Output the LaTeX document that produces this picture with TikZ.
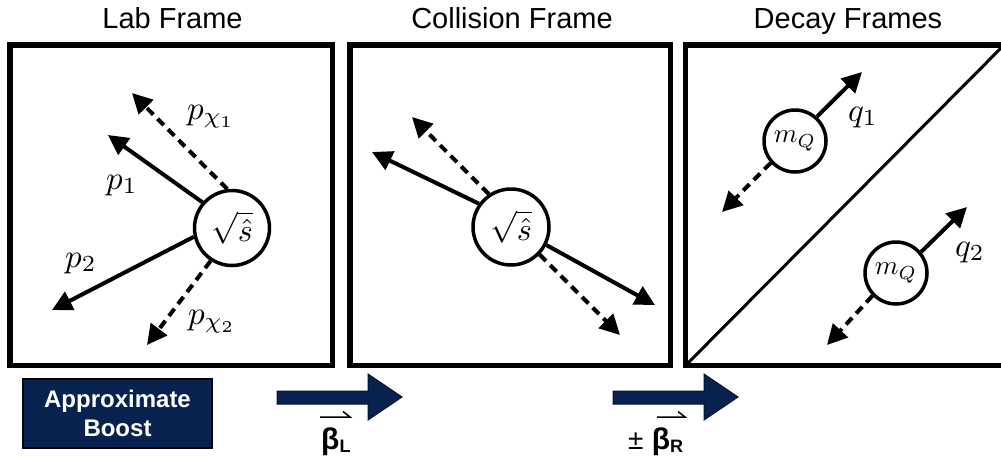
\RequirePackage{fix-cm}
\documentclass[tikz,border=0pt]{standalone}
\usepackage{graphicx}
\usepackage[no-math]{fontspec}
\newfontfamily\lsans{Liberation Sans}
\usetikzlibrary{arrows.meta}
\definecolor{navy}{RGB}{8,34,80}
\definecolor{navyline}{RGB}{5,20,45}
\newcommand{\scmath}[2]{\scalebox{#1}{$#2$}}
\begin{document}
\begin{tikzpicture}[x=1pt,y=-1pt,
  frame/.style={draw, line width=5.5pt},
  title/.style={font=\lsans\fontsize{29}{34}\selectfont, anchor=base, inner sep=0},
  vert/.style={circle, draw, line width=3.5pt, fill=white, inner sep=0},
  mlab/.style={anchor=base west, inner sep=0},
  solidarr/.style={line width=4pt, -{Triangle[length=20pt,width=20pt]}},
  dasharr/.style={solidarr, dash pattern=on 9pt off 6pt},
  boost/.style={fill=navy, draw=navyline, line width=1pt},
  betalab/.style={font=\lsans\bfseries\fontsize{30}{34}\selectfont, anchor=base west, inner sep=0},
  harp/.style={line width=1.5pt},
]
\useasboundingbox (0,0) rectangle (1001,459);
\fill[white] (0,0) rectangle (1001,459);

% titles
\node[title] (t-lab) at (172.5,28) {Lab Frame};
\node[title] (t-col) at (512,28) {Collision Frame};
\node[title] (t-dec) at (848,28) {Decay Frames};

% frames
\draw[frame] (10,45) rectangle (332.5,365.5);
\draw[frame] (350,45) rectangle (670.5,365.5);
\draw[frame] (685.5,45) rectangle (1004,365.5);
\coordinate (dA) at (685.5,365.5);
\coordinate (dB) at (1004,45);
\draw[line width=3pt] (dA) -- (dB);

% Lab frame
\coordinate (l1) at (108,135);
\coordinate (l2) at (132,93);
\coordinate (l3) at (52,310);
\coordinate (l4) at (147,345);
\node[vert, minimum size=75pt] (lab) at (232,228) {\scmath{3.2}{\sqrt{\hat s}}};
\draw[solidarr] (lab.139) -- (l1);
\draw[dasharr] (lab.97) -- (l2);
\draw[solidarr] (lab.193) -- (l3);
\draw[dasharr] (lab.237) -- (l4);
\node[mlab] (lp1) at (106,189) {\scmath{3.3}{p_1}};
\node[mlab] (lpc1) at (187,119) {\scmath{3.3}{p_{\chi_1}}};
\node[mlab] (lp2) at (65,267) {\scmath{3.3}{p_2}};
\node[mlab] (lpc2) at (188,324) {\scmath{3.3}{p_{\chi_2}}};

% Collision frame
\coordinate (c1) at (372,152);
\coordinate (c2) at (412,117);
\coordinate (c3) at (655,305);
\coordinate (c4) at (620,335);
\node[vert, minimum size=76pt] (col) at (511,227) {\scmath{3.2}{\sqrt{\hat s}}};
\draw[solidarr] (col.144) -- (c1);
\draw[dasharr] (col.124) -- (c2);
\draw[solidarr] (col.-27) -- (c3);
\draw[dasharr] (col.-44) -- (c4);

% Decay frames
\coordinate (e1) at (862,72);
\coordinate (e2) at (722,212);
\coordinate (e3) at (967,207);
\coordinate (e4) at (827,345);
\node[vert, minimum size=62pt] (d1) at (795,141) {\scmath{2.7}{m_Q}};
\node[vert, minimum size=62pt] (d2) at (896,273) {\scmath{2.7}{m_Q}};
\draw[solidarr] (d1.48) -- (e1);
\draw[dasharr] (d1.222) -- (e2);
\draw[solidarr] (d2.40) -- (e3);
\draw[dasharr] (d2.224) -- (e4);
\node[mlab] (q1) at (848,121) {\scmath{3.3}{q_1}};
\node[mlab] (q2) at (955,256) {\scmath{3.3}{q_2}};

% bottom row
\node[draw=black, line width=1.2pt, fill=navy, minimum width=189pt, minimum height=69pt,
  text=white, font=\lsans\bfseries\fontsize{24}{29}\selectfont, align=center, inner sep=0]
  (ab) at (117.5,413.5) {Approximate\\Boost};
\draw[boost] (277,391) -- (368,391) -- (368,374) -- (402,397) -- (368,420) -- (368,404) -- (277,404) -- cycle;
\draw[boost] (613,391) -- (704,391) -- (704,374) -- (738,397) -- (704,420) -- (704,404) -- (613,404) -- cycle;
\node[betalab] (bL) at (321,449) {β\raisebox{-3pt}{\fontsize{18}{20}\selectfont L}};
\draw[harp] (320,417) -- (350,417) -- (343,411.5);
\node[betalab] (bR) at (628,449) {{\mdseries\fontsize{28}{32}\selectfont ±} β\raisebox{-3pt}{\fontsize{18}{20}\selectfont R}};
\draw[harp] (657,417) -- (685,417) -- (678,411.5);
\end{tikzpicture}
\end{document}
